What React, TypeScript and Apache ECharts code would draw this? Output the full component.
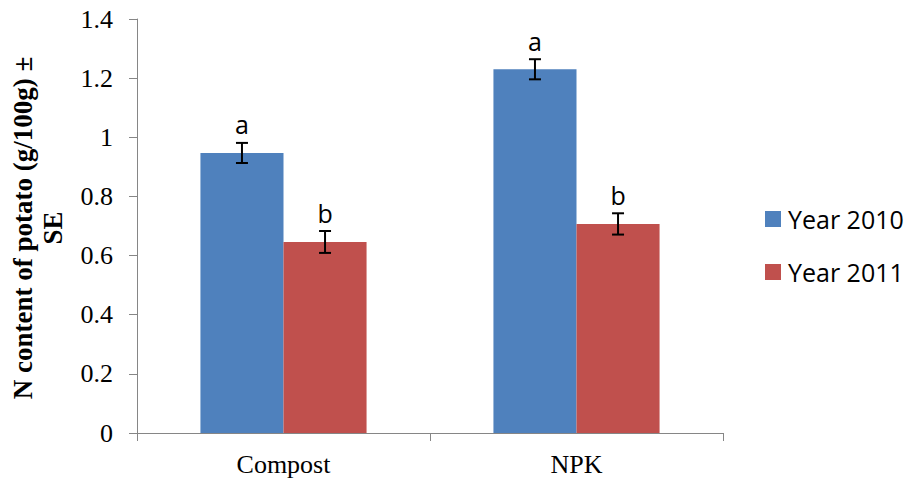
import React, { useEffect, useRef } from "react";
import * as echarts from "echarts";

const categories = ["Compost", "NPK"];
const seriesNames = ["Year 2010", "Year 2011"];
const values2010 = [0.947, 1.23];
const values2011 = [0.646, 0.707];
const errors2010 = [0.034, 0.034];
const errors2011 = [0.037, 0.036];
const letters2010 = ["a", "a"];
const letters2011 = ["b", "b"];
const yTicks = { min: 0, max: 1.4, interval: 0.2 };
const yTitle = "N content of potato (g/100g) ±\nSE";

const BLUE = "#4F81BD";
const RED = "#C0504D";
const CAT_GAP = 0.433;

export default function App() {
  const ref = useRef<HTMLDivElement>(null);
  useEffect(() => {
    if (!ref.current) return;
    const chart = echarts.init(ref.current, undefined, { renderer: "svg" });

    const errData: any[] = [];
    categories.forEach((_, i) => {
      errData.push([i, values2010[i], errors2010[i], 0, letters2010[i]]);
      errData.push([i, values2011[i], errors2011[i], 1, letters2011[i]]);
    });

    const renderErr = (params: any, api: any) => {
      const ci = api.value(0);
      const v = api.value(1);
      const e = api.value(2);
      const s = api.value(3);
      const letter = (errData[params.dataIndex] as any)[4];
      const catW = api.size([1, 0])[0];
      const bw = (catW * (1 - CAT_GAP)) / 2;
      const center = api.coord([ci, v]);
      const x = center[0] + (s === 0 ? -bw / 2 : bw / 2);
      const top = api.coord([ci, v + e])[1];
      const bot = api.coord([ci, v - e])[1];
      const cap = 6;
      const st = { stroke: "#000", lineWidth: 2 };
      return {
        type: "group",
        children: [
          { type: "line", shape: { x1: x, y1: top, x2: x, y2: bot }, style: st },
          { type: "line", shape: { x1: x - cap, y1: top, x2: x + cap, y2: top }, style: st },
          { type: "line", shape: { x1: x - cap, y1: bot, x2: x + cap, y2: bot }, style: st },
          {
            type: "text",
            x: x,
            y: top - 6,
            style: {
              text: letter,
              fill: "#000",
              font: "25px 'Open Sans'",
              align: "center",
              verticalAlign: "bottom",
            },
          },
        ],
      };
    };

    chart.setOption({
      animation: false,
      grid: { left: 137, right: 186, top: 19, bottom: 51 },
      legend: {
        orient: "vertical",
        left: 760,
        top: 199,
        itemWidth: 16,
        itemHeight: 16,
        itemGap: 23,
        icon: "rect",
        data: seriesNames,
        textStyle: {
          fontFamily: "Open Sans",
          fontSize: 25,
          color: "#000",
          lineHeight: 30,
          padding: [0, 0, 0, 2],
        },
      },
      xAxis: {
        type: "category",
        data: categories,
        axisLine: { lineStyle: { color: "#868686", width: 1 } },
        axisTick: { show: true, length: 8, lineStyle: { color: "#868686" } },
        axisLabel: {
          fontFamily: "Liberation Serif",
          fontSize: 26,
          color: "#000",
          margin: 18,
        },
      },
      yAxis: {
        type: "value",
        min: yTicks.min,
        max: yTicks.max,
        interval: yTicks.interval,
        splitLine: { show: false },
        axisLine: { show: true, lineStyle: { color: "#868686", width: 1 } },
        axisTick: { show: true, length: 8, lineStyle: { color: "#868686" } },
        axisLabel: {
          fontFamily: "Liberation Serif",
          fontSize: 26,
          color: "#000",
          margin: 24,
          formatter: (v: number) => String(Math.round(v * 10) / 10),
        },
      },
      graphic: [
        {
          type: "text",
          x: 38,
          y: 228,
          rotation: Math.PI / 2,
          style: {
            text: yTitle,
            font: "bold 27px 'Liberation Serif'",
            fill: "#000",
            align: "center",
            verticalAlign: "middle",
            lineHeight: 30,
          },
        },
      ],
      series: [
        {
          name: seriesNames[0],
          type: "bar",
          data: values2010,
          itemStyle: { color: BLUE },
          barGap: "0%",
          barCategoryGap: CAT_GAP * 100 + "%",
        },
        {
          name: seriesNames[1],
          type: "bar",
          data: values2011,
          itemStyle: { color: RED },
          barGap: "0%",
          barCategoryGap: CAT_GAP * 100 + "%",
        },
        {
          type: "custom",
          data: errData,
          renderItem: renderErr,
          z: 10,
          encode: { x: 0, y: 1 },
          silent: true,
        },
      ],
    });
    return () => chart.dispose();
  }, []);
  return (
    <div
      ref={ref}
      style={{ position: "fixed", left: 0, top: 0, width: 909, height: 484, background: "#fff" }}
    />
  );
}
